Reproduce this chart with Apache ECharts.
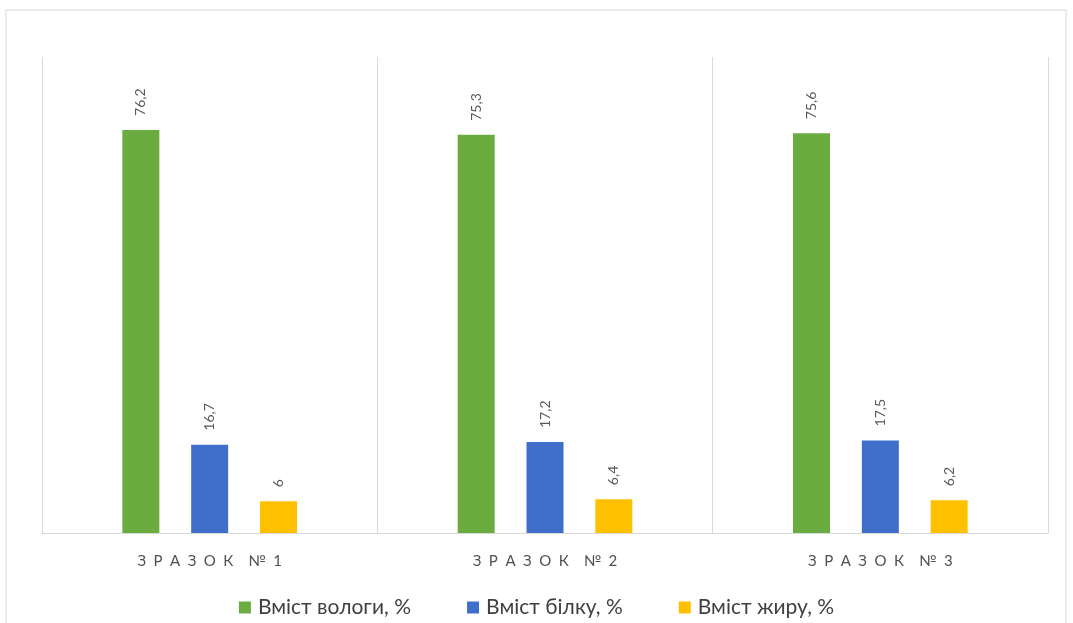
<!DOCTYPE html>
<html>
<head>
<meta charset="utf-8">
<script src="https://cdn.jsdelivr.net/npm/echarts@6/dist/echarts.min.js"></script>
<style>
  html, body { margin: 0; padding: 0; background: #fff; }
  #chart { width: 1073px; height: 623px; }
</style>
</head>
<body>
<div id="chart"></div>
<script>
// Categories (samples) and measured composition, %
const categories = ['ЗРАЗОК №1', 'ЗРАЗОК №2', 'ЗРАЗОК №3'];
const moisture = [76.2, 75.3, 75.6];
const protein = [16.7, 17.2, 17.5];
const fat = [6, 6.4, 6.2];
const seriesNames = ['Вміст вологи, %', 'Вміст білку, %', 'Вміст жиру, %'];
const colors = ['#6AAC40', '#3F6FCB', '#FFC000'];

const fontFamily = 'Lato, "Noto Sans", "Open Sans", sans-serif';

// Spread the category caption letters apart (en spaces between letters)
const spaced = s => s.split(' ').map(w => w.split('').join('\u2002')).join('\u2002\u2002');

const chart = echarts.init(document.getElementById('chart'), null, { renderer: 'canvas' });

// Values are shown with a decimal comma
const fmt = p => String(p.value).replace('.', ',');

const makeSeries = (name, data, color) => ({
  name: name,
  type: 'bar',
  data: data,
  barWidth: 37,
  barGap: '86%',
  itemStyle: { color: color },
  label: {
    show: true,
    position: 'top',
    rotate: 90,
    align: 'left',
    verticalAlign: 'middle',
    distance: 14,
    color: '#595959',
    fontSize: 14,
    fontFamily: fontFamily,
    formatter: fmt
  }
});

chart.setOption({
  backgroundColor: '#ffffff',
  animation: false,
  color: colors,
  graphic: [{
    type: 'rect',
    shape: { x: 6, y: 10, width: 1060, height: 640 },
    style: { fill: 'none', stroke: '#ececec', lineWidth: 2 },
    silent: true
  }],
  grid: { left: 42, right: 25, top: 57, bottom: 90 },
  legend: {
    bottom: 0,
    left: 'center',
    itemWidth: 12,
    itemHeight: 12,
    itemGap: 56,
    icon: 'rect',
    textStyle: { color: '#404040', fontSize: 21, fontFamily: fontFamily, padding: [0, 0, 0, 2] },
    data: seriesNames
  },
  xAxis: {
    type: 'category',
    data: categories,
    axisLine: { show: true, lineStyle: { color: '#d9d9d9', width: 1 } },
    axisTick: { show: false },
    splitLine: { show: true, lineStyle: { color: '#d9d9d9', width: 1 } },
    axisLabel: {
      color: '#505050',
      fontSize: 15,
      fontFamily: fontFamily,
      margin: 21,
      formatter: v => spaced(v)
    }
  },
  yAxis: {
    type: 'value',
    min: 0,
    max: 90,
    show: false,
    splitLine: { show: false }
  },
  series: [
    makeSeries(seriesNames[0], moisture, colors[0]),
    makeSeries(seriesNames[1], protein, colors[1]),
    makeSeries(seriesNames[2], fat, colors[2])
  ]
});
</script>
</body>
</html>
